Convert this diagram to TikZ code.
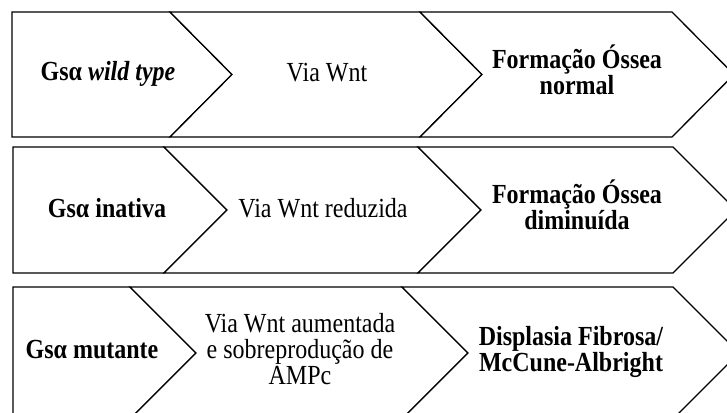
\documentclass[tikz,border=0pt]{standalone}
\usepackage{fontspec}
\setmainfont{Liberation Serif}
\usepackage{graphicx}
\newcommand{\mline}[1]{\begin{tabular}[t]{@{}c@{}}#1\end{tabular}}
\newcommand{\vstretch}[1]{\scalebox{1}[1.15]{#1}}
\tikzset{
  box/.style={draw=black, line width=1.3pt, line join=miter, fill=white},
  lbl/.style={anchor=base, align=center, inner sep=0pt, font=\fontsize{24}{21.7}\selectfont}
}
\begin{document}
\begin{tikzpicture}[x=1pt, y=-1pt]
\useasboundingbox (0,0) rectangle (727,412);
\clip (0,0) rectangle (727,412);
% Row 1
\draw[box] (12,12) -- (170,12) -- (232,74.5) -- (170,137) -- (12,137) -- cycle;
\draw[box] (170,12) -- (420,12) -- (482,74.5) -- (420,137) -- (170,137) -- (232,74.5) -- cycle;
\draw[box] (420,12) -- (672,12) -- (734,74.5) -- (672,137) -- (420,137) -- (482,74.5) -- cycle;
% Row 2
\draw[box] (13,147) -- (164,147) -- (227,210) -- (164,273) -- (13,273) -- cycle;
\draw[box] (164,147) -- (418,147) -- (481,210) -- (418,273) -- (164,273) -- (227,210) -- cycle;
\draw[box] (418,147) -- (673,147) -- (736,210) -- (673,273) -- (418,273) -- (481,210) -- cycle;
% Row 3
\draw[box] (13,287) -- (130,287) -- (196,353) -- (130,419) -- (13,419) -- cycle;
\draw[box] (130,287) -- (402,287) -- (468,353) -- (402,419) -- (130,419) -- (196,353) -- cycle;
\draw[box] (402,287) -- (673,287) -- (739,353) -- (673,419) -- (402,419) -- (468,353) -- cycle;
% Labels
\node[lbl] (a1) at (108,80) {\vstretch{\textbf{Gsα \textit{wild type}}}};
\node[lbl] (b1) at (327,81) {\vstretch{Via Wnt}};
\node[lbl] (c1) at (577,68) {\vstretch{\mline{\textbf{Formação Óssea}\\\textbf{normal}}}};
\node[lbl] (a2) at (107,217) {\vstretch{\textbf{Gsα inativa}}};
\node[lbl] (b2) at (323,217) {\vstretch{Via Wnt reduzida}};
\node[lbl] (c2) at (577,203) {\vstretch{\mline{\textbf{Formação Óssea}\\\textbf{diminuída}}}};
\node[lbl] (a3) at (92,358) {\vstretch{\textbf{Gsα mutante}}};
\node[lbl] (b3) at (300,332) {\vstretch{\mline{Via Wnt aumentada\\e sobreprodução de\\AMPc}}};
\node[lbl] (c3) at (571,345) {\vstretch{\mline{\textbf{Displasia Fibrosa/}\\\textbf{McCune-Albright}}}};
\end{tikzpicture}
\end{document}
